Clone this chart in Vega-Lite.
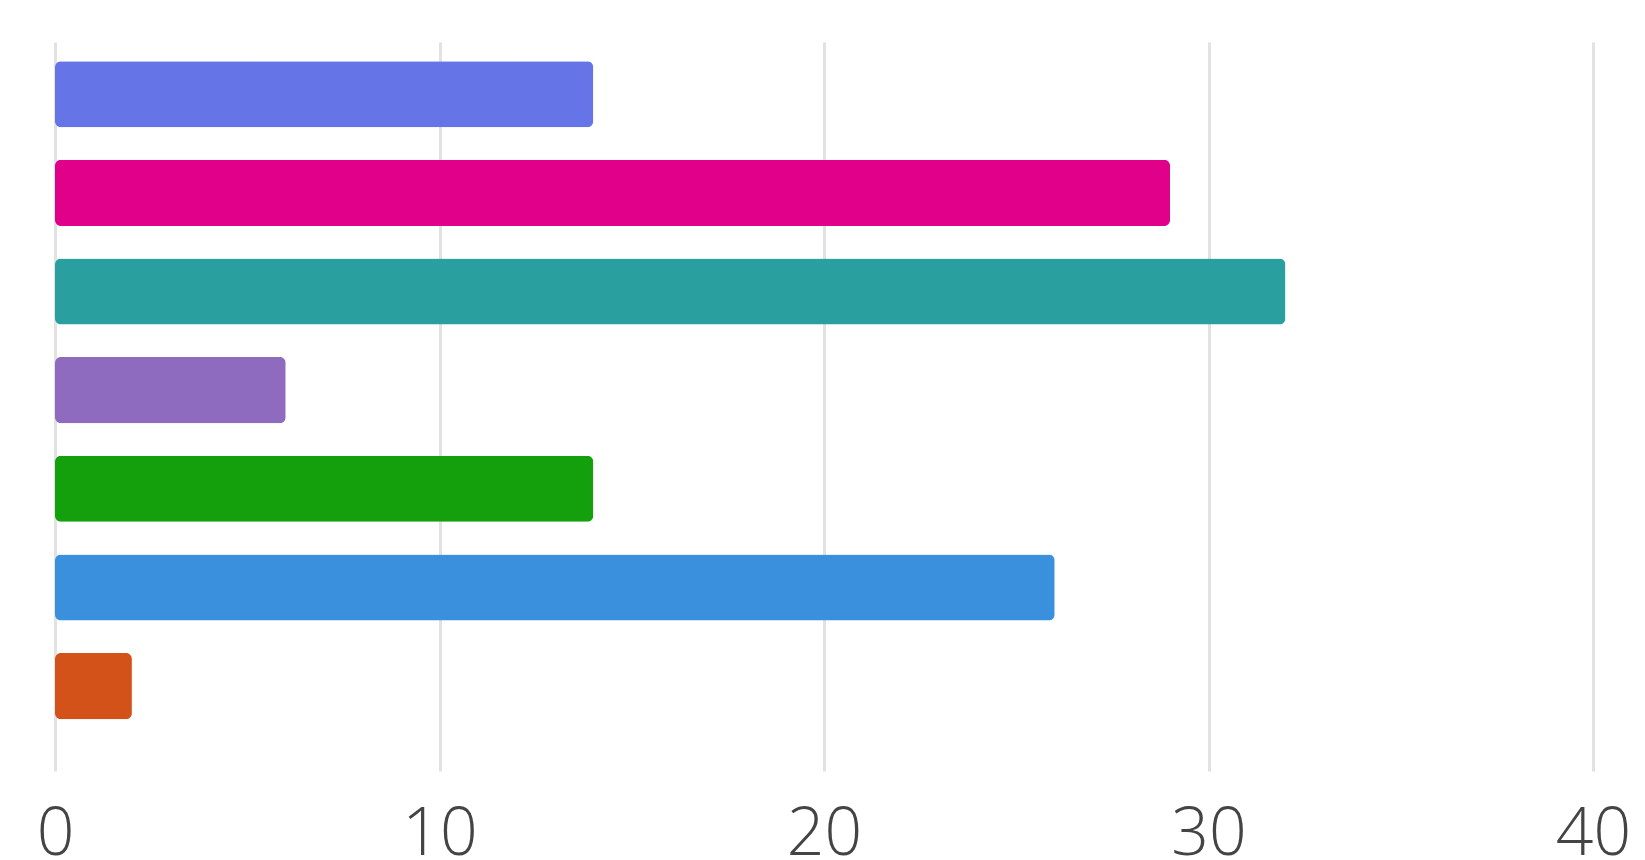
{
  "$schema": "https://vega.github.io/schema/vega-lite/v6.json",
  "width": 1538,
  "height": 729,
  "autosize": {"type": "none"},
  "padding": {"left": 55, "top": 42, "right": 52, "bottom": 89},
  "background": "white",
  "config": {"view": {"stroke": null}},
  "data": {
    "values": [
      {"category": "1", "value": 14},
      {"category": "2", "value": 29},
      {"category": "3", "value": 32},
      {"category": "4", "value": 6},
      {"category": "5", "value": 14},
      {"category": "6", "value": 26},
      {"category": "7", "value": 2}
    ]
  },
  "mark": {"type": "bar", "cornerRadius": 6},
  "encoding": {
    "y": {
      "field": "category",
      "type": "nominal",
      "sort": null,
      "axis": null,
      "scale": {"paddingInner": 0.33, "paddingOuter": 0.36, "align": 0.27}
    },
    "x": {
      "field": "value",
      "type": "quantitative",
      "scale": {"domain": [0, 40], "nice": false},
      "axis": {
        "values": [0, 10, 20, 30, 40],
        "grid": true,
        "gridColor": "#e2e2e2",
        "gridWidth": 3,
        "domain": false,
        "ticks": false,
        "labelFlush": false,
        "labelOverlap": false,
        "labelFontSize": 66,
        "labelColor": "#444444",
        "labelFont": "Open Sans",
        "labelFontWeight": 300,
        "labelPadding": 31,
        "title": null
      }
    },
    "color": {
      "field": "category",
      "type": "nominal",
      "scale": {
        "domain": ["1", "2", "3", "4", "5", "6", "7"],
        "range": ["#6574E6", "#E0008A", "#2A9FA0", "#8E6BBE", "#14A00C", "#3A90DC", "#D2521A"]
      },
      "legend": null
    }
  }
}
